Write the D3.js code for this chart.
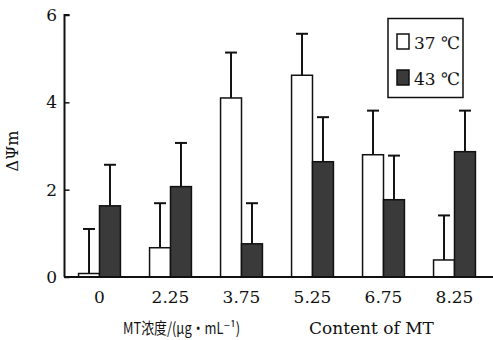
<!DOCTYPE html>
<html><head><meta charset="utf-8">
<script src="https://cdn.jsdelivr.net/npm/d3@7"></script>
<style>body{margin:0;background:#fff}svg{display:block}</style>
</head><body>
<svg id="c" width="493" height="340"></svg>
<script>
const categories = ["0","2.25","3.75","5.25","6.75","8.25"];
const seriesNames = ["37 ℃","43 ℃"];
const values37 = [0.08,0.67,4.10,4.62,2.80,0.39];
const err37 = [1.02,1.02,1.04,0.95,1.01,1.02];
const values43 = [1.63,2.07,0.76,2.64,1.77,2.87];
const err43 = [0.94,1.00,0.93,1.02,1.01,0.94];
const yTicks = [0,2,4,6];
const xTitleCN = "MT浓度/(μg·mL⁻¹)";
const xTitleEN = "Content of MT";
const yTitle = "ΔΨm";
const colors = ["#ffffff","#3a3a3a"];
const FONT = "'DejaVu Serif', serif";
const CJK = "'Noto Sans CJK SC', 'DejaVu Serif', serif";

const svg = d3.select("#c");
const x0 = d3.scaleBand().domain(categories).range([64,490]).paddingInner(0.41).paddingOuter(0.205);
const x1 = d3.scaleBand().domain([0,1]).range([0,x0.bandwidth()]);
const y = d3.scaleLinear().domain([0,6]).range([277,15]);

const data = categories.map((c,i)=>[
  {c, s:0, v:values37[i], e:err37[i]},
  {c, s:1, v:values43[i], e:err43[i]}
]).flat();

const g = svg.append("g");
const eb = g.selectAll(".eb").data(data).join("g");
eb.append("line")
  .attr("x1",d=>x0(d.c)+x1(d.s)+x1.bandwidth()/2)
  .attr("x2",d=>x0(d.c)+x1(d.s)+x1.bandwidth()/2)
  .attr("y1",d=>y(d.v)).attr("y2",d=>y(d.v+d.e))
  .attr("stroke","#111").attr("stroke-width",2);
eb.append("line")
  .attr("x1",d=>x0(d.c)+x1(d.s)+x1.bandwidth()/2-6)
  .attr("x2",d=>x0(d.c)+x1(d.s)+x1.bandwidth()/2+6)
  .attr("y1",d=>y(d.v+d.e)).attr("y2",d=>y(d.v+d.e))
  .attr("stroke","#111").attr("stroke-width",2);
g.selectAll(".bar").data(data).join("rect")
  .attr("x",d=>x0(d.c)+x1(d.s))
  .attr("width",x1.bandwidth())
  .attr("y",d=>y(d.v))
  .attr("height",d=>y(0)-y(d.v))
  .attr("fill",d=>colors[d.s])
  .attr("stroke","#111").attr("stroke-width",1.5);

const ya = svg.append("g").attr("transform","translate(64.5,0)")
  .call(d3.axisRight(y).tickValues(yTicks).tickSize(5).tickFormat(""));
ya.select(".domain").attr("stroke","#111").attr("stroke-width",2).attr("d",`M5,${y(6)}H0V${y(0)}`);
ya.selectAll(".tick line").attr("stroke","#111").attr("stroke-width",1.5);
svg.append("g").selectAll("text").data(yTicks).join("text")
  .attr("x",57).attr("y",d=>y(d)+6).attr("text-anchor","end")
  .style("font-family",FONT).style("font-size","17px").attr("fill","#111").text(d=>d);

const xa = svg.append("g").attr("transform","translate(0,277)")
  .call(d3.axisBottom(x0).tickSize(0).tickPadding(14));
xa.select(".domain").attr("stroke","#111").attr("stroke-width",2).attr("d","M64,0H493");
xa.attr("font-family",null).attr("font-size",null);
xa.selectAll(".tick text").style("font-size","17px").attr("fill","#111")
  .style("font-family",FONT);

svg.append("text").attr("x",123).attr("y",334)
  .attr("textLength",117).attr("lengthAdjust","spacingAndGlyphs")
  .style("font-family",CJK).style("font-size","16px").attr("fill","#111")
  .text(xTitleCN);
svg.append("text").attr("x",309).attr("y",334)
  .style("font-family",FONT).style("font-size","17px").attr("fill","#111")
  .text(xTitleEN);
svg.append("text").attr("transform","translate(18,151) rotate(-90)").attr("text-anchor","middle")
  .style("font-family",FONT).style("font-size","16px").attr("fill","#111").text(yTitle);

const lg = svg.append("g");
lg.append("rect").attr("x",388).attr("y",18.5).attr("width",75).attr("height",79)
  .attr("fill","#fff").attr("stroke","#111").attr("stroke-width",1.5);
seriesNames.forEach((n,i)=>{
  const yy = 34 + i*36;
  lg.append("rect").attr("x",397).attr("y",yy).attr("width",12).attr("height",15)
    .attr("fill",colors[i]).attr("stroke","#111").attr("stroke-width",1.5);
  lg.append("text").attr("x",414).attr("y",yy+15)
    .style("font-family",FONT).style("font-size","17px").attr("fill","#111").text(n);
});
</script>
</body></html>
